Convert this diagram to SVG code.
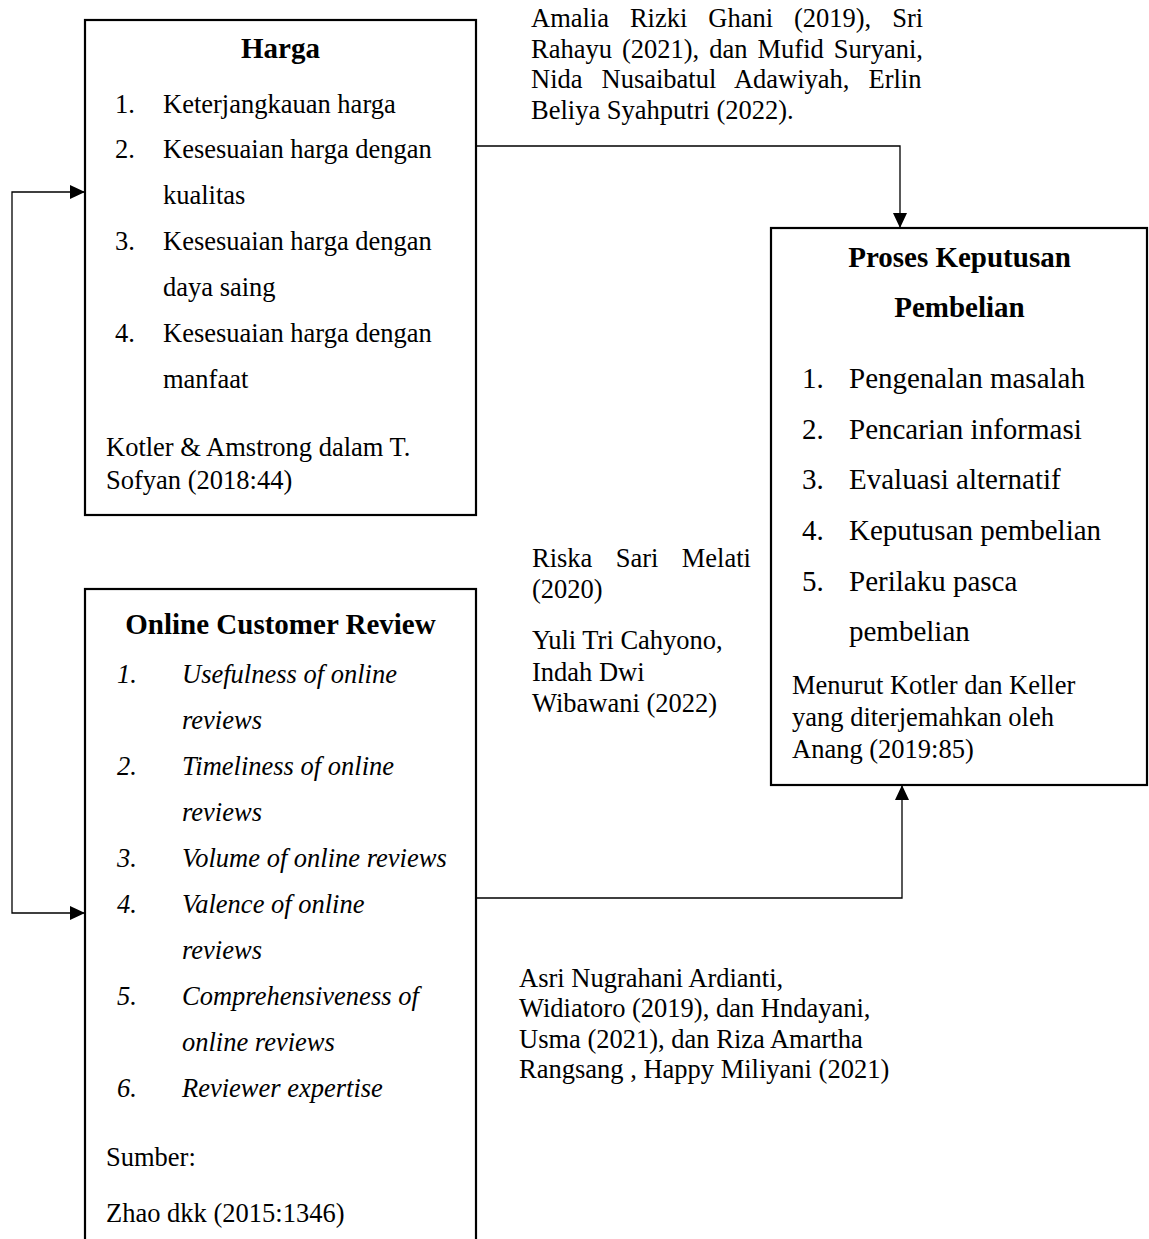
<svg xmlns="http://www.w3.org/2000/svg" width="1149" height="1239" viewBox="0 0 1149 1239">
<style>
text{font-family:"Liberation Serif","Times New Roman",serif;fill:#000}
.t{font-size:29px;font-weight:bold}
.b{font-size:26.5px}
.p{font-size:29px}
.i{font-size:26.5px;font-style:italic}
.box{fill:#fff;stroke:#000;stroke-width:2.2}
.con{fill:none;stroke:#000;stroke-width:1.3}
</style>
<defs>
<marker id="arr" markerWidth="15" markerHeight="14" refX="15" refY="7" orient="auto-start-reverse" markerUnits="userSpaceOnUse">
<path d="M0,0 L15,7 L0,14 z" fill="#000"/>
</marker>
</defs>
<rect width="1149" height="1239" fill="#fff"/>
<g id="harga">
<rect class="box" x="85" y="20" width="391" height="495"/>
<text class="t" x="280.5" y="58" text-anchor="middle">Harga</text>
<text class="b" x="115" y="113">1.</text><text class="b" x="163" y="113">Keterjangkauan harga</text>
<text class="b" x="115" y="158">2.</text><text class="b" x="163" y="158">Kesesuaian harga dengan</text>
<text class="b" x="163" y="204">kualitas</text>
<text class="b" x="115" y="250">3.</text><text class="b" x="163" y="250">Kesesuaian harga dengan</text>
<text class="b" x="163" y="296">daya saing</text>
<text class="b" x="115" y="342">4.</text><text class="b" x="163" y="342">Kesesuaian harga dengan</text>
<text class="b" x="163" y="388">manfaat</text>
<text class="b" x="106" y="456">Kotler &amp; Amstrong dalam T.</text>
<text class="b" x="106" y="489">Sofyan (2018:44)</text>
</g>
<g id="ocr">
<rect class="box" x="85" y="589" width="391" height="670"/>
<text class="t" x="280.5" y="634" text-anchor="middle">Online Customer Review</text>
<text class="i" x="117" y="683">1.</text><text class="i" x="182" y="683">Usefulness of online</text>
<text class="i" x="182" y="729">reviews</text>
<text class="i" x="117" y="775">2.</text><text class="i" x="182" y="775">Timeliness of online</text>
<text class="i" x="182" y="821">reviews</text>
<text class="i" x="117" y="867">3.</text><text class="i" x="182" y="867">Volume of online reviews</text>
<text class="i" x="117" y="913">4.</text><text class="i" x="182" y="913">Valence of online</text>
<text class="i" x="182" y="959">reviews</text>
<text class="i" x="117" y="1005">5.</text><text class="i" x="182" y="1005">Comprehensiveness of</text>
<text class="i" x="182" y="1051">online reviews</text>
<text class="i" x="117" y="1097">6.</text><text class="i" x="182" y="1097">Reviewer expertise</text>
<text class="b" x="106" y="1166">Sumber:</text>
<text class="b" x="106" y="1222">Zhao dkk (2015:1346)</text>
</g>
<g id="proses">
<rect class="box" x="771" y="228" width="376" height="557"/>
<text class="t" x="959.5" y="267" text-anchor="middle">Proses Keputusan</text>
<text class="t" x="959.5" y="317" text-anchor="middle">Pembelian</text>
<text class="p" x="802" y="388">1.</text><text class="p" x="849" y="388">Pengenalan masalah</text>
<text class="p" x="802" y="439">2.</text><text class="p" x="849" y="439">Pencarian informasi</text>
<text class="p" x="802" y="489">3.</text><text class="p" x="849" y="489">Evaluasi alternatif</text>
<text class="p" x="802" y="540">4.</text><text class="p" x="849" y="540">Keputusan pembelian</text>
<text class="p" x="802" y="591">5.</text><text class="p" x="849" y="591">Perilaku pasca</text>
<text class="p" x="849" y="641">pembelian</text>
<text class="b" x="792" y="694">Menurut Kotler dan Keller</text>
<text class="b" x="792" y="726">yang diterjemahkan oleh</text>
<text class="b" x="792" y="758">Anang (2019:85)</text>
</g>
<g id="label-harga-proses">
<text class="b" x="531" y="27" word-spacing="14.3">Amalia Rizki Ghani (2019), Sri</text>
<text class="b" x="531" y="57.5" word-spacing="3.4">Rahayu (2021), dan Mufid Suryani,</text>
<text class="b" x="531" y="88" word-spacing="12.4">Nida Nusaibatul Adawiyah, Erlin</text>
<text class="b" x="531" y="118.5">Beliya Syahputri (2022).</text>
</g>
<g id="label-middle">
<text class="b" x="532" y="567" word-spacing="16.7">Riska Sari Melati</text>
<text class="b" x="532" y="598">(2020)</text>
<text class="b" x="532" y="649">Yuli Tri Cahyono,</text>
<text class="b" x="532" y="681">Indah Dwi</text>
<text class="b" x="532" y="712">Wibawani (2022)</text>
</g>
<g id="label-ocr-proses">
<text class="b" x="519" y="987">Asri Nugrahani Ardianti,</text>
<text class="b" x="519" y="1017">Widiatoro (2019), dan Hndayani,</text>
<text class="b" x="519" y="1048">Usma (2021), dan Riza Amartha</text>
<text class="b" x="519" y="1078">Rangsang , Happy Miliyani (2021)</text>
</g>
<g id="connectors">
<path class="con" d="M476,146 H900 V228" marker-end="url(#arr)"/>
<path class="con" d="M476,898 H902 V785" marker-end="url(#arr)"/>
<path class="con" d="M85,192 H12 V913 H85" marker-start="url(#arr)" marker-end="url(#arr)"/>
</g>
</svg>
